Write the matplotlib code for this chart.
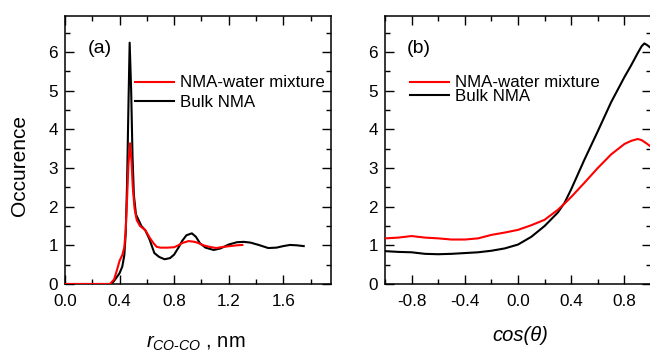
import matplotlib
matplotlib.use("Agg")
import matplotlib.pyplot as plt
from matplotlib.ticker import MultipleLocator

plt.rcParams['font.family'] = ['Liberation Sans', 'DejaVu Sans']
plt.rcParams['mathtext.fontset'] = 'custom'
plt.rcParams['mathtext.rm'] = 'Liberation Sans'
plt.rcParams['mathtext.it'] = 'Liberation Sans:italic'

# Panel (a): distance distribution
r_bulk = [0.0, 0.30, 0.34, 0.36, 0.38, 0.40, 0.42, 0.435, 0.445, 0.455, 0.465, 0.474,
          0.485, 0.495, 0.505, 0.52, 0.54, 0.56, 0.59, 0.62, 0.655, 0.69, 0.73, 0.77,
          0.80, 0.83, 0.86, 0.89, 0.93, 0.96, 0.99, 1.03, 1.09, 1.14, 1.20, 1.26, 1.31,
          1.36, 1.42, 1.49, 1.55, 1.60, 1.65, 1.70, 1.75]
occ_bulk = [0.0, 0.0, 0.0, 0.08, 0.18, 0.28, 0.45, 0.75, 1.3, 2.6, 4.6, 6.24,
            5.0, 3.3, 2.3, 1.8, 1.65, 1.5, 1.38, 1.15, 0.8, 0.7, 0.64, 0.67,
            0.76, 0.93, 1.12, 1.26, 1.31, 1.22, 1.05, 0.94, 0.88, 0.92, 1.02, 1.08, 1.09,
            1.07, 1.01, 0.93, 0.94, 0.98, 1.01, 1.0, 0.98]

r_mix = [0.0, 0.30, 0.33, 0.36, 0.38, 0.40, 0.42, 0.435, 0.445, 0.455, 0.465, 0.477,
         0.487, 0.497, 0.51, 0.526, 0.55, 0.587, 0.624, 0.65, 0.673, 0.70, 0.75, 0.80,
         0.83, 0.86, 0.905, 0.95, 0.97, 1.015, 1.06, 1.11, 1.16, 1.21, 1.26, 1.30]
occ_mix = [0.0, 0.0, 0.0, 0.12, 0.35, 0.6, 0.75, 0.95, 1.4, 2.2, 3.1, 3.64,
           3.2, 2.5, 1.95, 1.65, 1.5, 1.4, 1.18, 1.05, 0.96, 0.94, 0.94, 0.95,
           1.0, 1.06, 1.11, 1.09, 1.07, 1.0, 0.96, 0.93, 0.96, 0.98, 1.0, 1.01]

# Panel (b): orientation distribution
cos_bulk = [-1.0, -0.9, -0.8, -0.7, -0.6, -0.5, -0.4, -0.3, -0.2, -0.1, 0.0, 0.1, 0.2,
            0.3, 0.35, 0.4, 0.5, 0.6, 0.7, 0.8, 0.85, 0.9, 0.93, 0.95, 0.97, 1.0]
occ_cos_bulk = [0.85, 0.83, 0.82, 0.78, 0.77, 0.78, 0.80, 0.82, 0.86, 0.92, 1.02, 1.22, 1.5,
                1.85, 2.1, 2.45, 3.22, 3.95, 4.7, 5.35, 5.65, 5.97, 6.15, 6.22, 6.18, 6.1]

cos_mix = [-1.0, -0.9, -0.8, -0.7, -0.6, -0.5, -0.4, -0.3, -0.2, -0.1, 0.0, 0.1, 0.2,
           0.3, 0.35, 0.4, 0.5, 0.6, 0.7, 0.8, 0.85, 0.9, 0.93, 0.96, 1.0]
occ_cos_mix = [1.18, 1.2, 1.24, 1.2, 1.18, 1.15, 1.15, 1.18, 1.27, 1.33, 1.40, 1.52, 1.66,
               1.92, 2.08, 2.25, 2.62, 3.0, 3.35, 3.62, 3.7, 3.75, 3.72, 3.65, 3.55]

label_mix = "NMA-water mixture"
label_bulk = "Bulk NMA"

fig = plt.figure(figsize=(6.5, 3.53), dpi=100)
W, H = 650.0, 353.0
axA = fig.add_axes([65 / W, (H - 284) / H, 266 / W, 268 / H])
axB = fig.add_axes([385 / W, (H - 284) / H, 266 / W, 268 / H])

lw = 1.5
axA.plot(r_mix, occ_mix, color='#ff0000', lw=lw, label=label_mix, zorder=3)
axA.plot(r_bulk, occ_bulk, color='black', lw=lw, label=label_bulk, zorder=2)
axB.plot(cos_mix, occ_cos_mix, color='#ff0000', lw=lw, label=label_mix, zorder=3)
axB.plot(cos_bulk, occ_cos_bulk, color='black', lw=lw, label=label_bulk, zorder=2)

axA.set_xlim(0, 1.95)
axB.set_xlim(-1.0, 1.0)
for ax in (axA, axB):
    ax.set_ylim(0, 6.93)
    ax.yaxis.set_major_locator(MultipleLocator(1))
    ax.yaxis.set_minor_locator(MultipleLocator(0.5))
    ax.xaxis.set_major_locator(MultipleLocator(0.4))
    ax.xaxis.set_minor_locator(MultipleLocator(0.2))
    ax.tick_params(which='both', direction='in', top=True, right=True, width=1.0,
                   labelsize=12.3, colors='black')
    ax.tick_params(which='major', length=6.5)
    ax.tick_params(which='minor', length=3.5)
    ax.tick_params(axis='x', pad=7)
    ax.tick_params(axis='y', pad=5)
    for s in ax.spines.values():
        s.set_linewidth(1.1)

axA.xaxis.set_major_formatter(plt.FuncFormatter(lambda v, p: f"{v:.1f}"))
axB.xaxis.set_major_formatter(plt.FuncFormatter(lambda v, p: f"{v:.1f}"))
axA.yaxis.set_major_formatter(plt.FuncFormatter(lambda v, p: f"{v:.0f}"))
axB.yaxis.set_major_formatter(plt.FuncFormatter(lambda v, p: f"{v:.0f}"))

axA.set_ylabel("Occurence", fontsize=15)
axA.yaxis.set_label_coords(-0.135, 0.444)
axA.set_xlabel(r"$r_{CO\text{-}CO}$ , nm", fontsize=14.5)
axA.xaxis.set_label_coords(0.49, -0.185)
axB.set_xlabel("cos(θ)", fontsize=14.5, style='italic')
axB.xaxis.set_label_coords(0.508, -0.155)

axA.text(0.086, 0.88, "(a)", transform=axA.transAxes, fontsize=14, va='center', ha='left')
axB.text(0.083, 0.88, "(b)", transform=axB.transAxes, fontsize=14, va='center', ha='left')

axA.legend(loc='upper left', bbox_to_anchor=(0.265, 0.778), frameon=False, fontsize=12.2,
           borderaxespad=0, borderpad=0, handlelength=2.3, handletextpad=0.35,
           labelspacing=0.25)
axB.legend(loc='upper left', bbox_to_anchor=(0.095, 0.778), frameon=False, fontsize=12.2,
           borderaxespad=0, borderpad=0, handlelength=2.3, handletextpad=0.35,
           labelspacing=-0.08)

fig.savefig("out.png", dpi=100)
